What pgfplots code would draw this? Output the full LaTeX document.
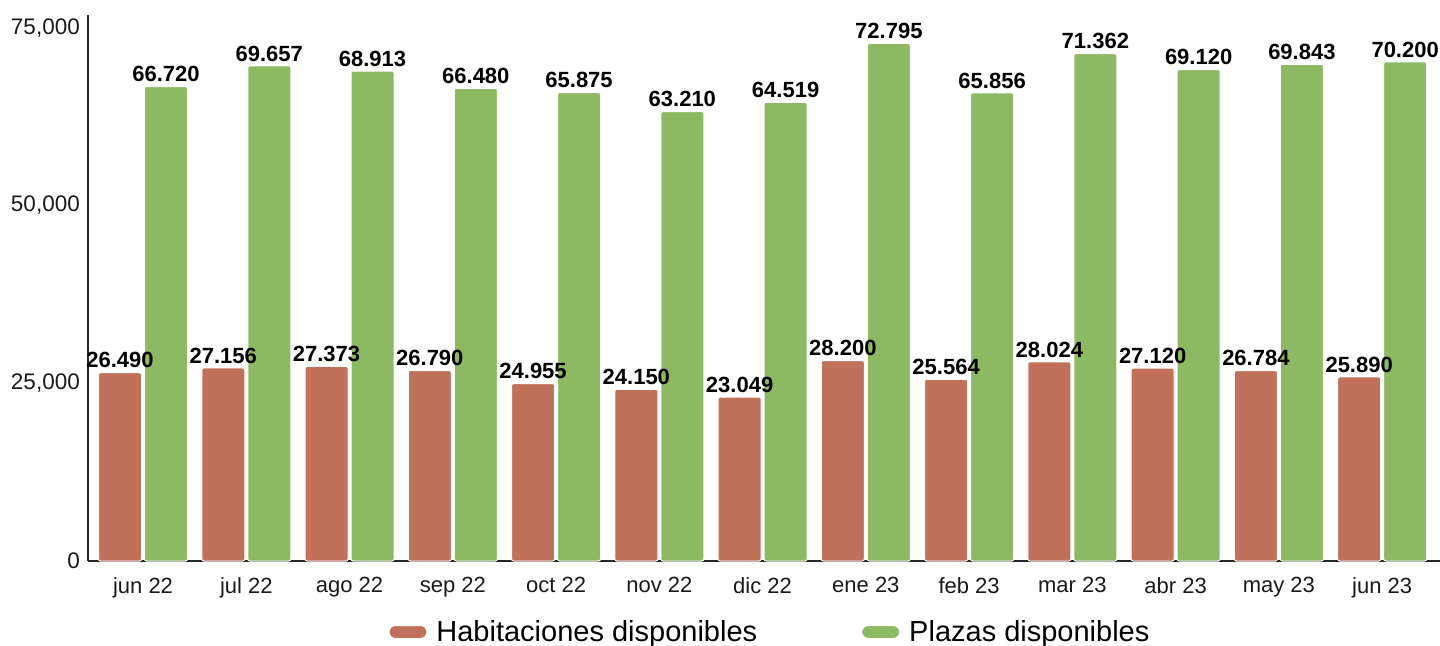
\documentclass[border=0pt]{standalone}
\usepackage{fontspec}
\setmainfont{Liberation Sans}
\usepackage{pgfplots}
\pgfplotsset{compat=1.18}
\definecolor{habc}{HTML}{C1705A}
\definecolor{plac}{HTML}{8DB963}
\begin{document}
\begin{tikzpicture}
\useasboundingbox (-88bp,-85bp) rectangle (1352bp,561bp);
\begin{axis}[
  at={(0,0)}, anchor=south west,
  scale only axis, width=1352bp, height=546bp,
  xmin=-0.533, xmax=12.56, ymin=0, ymax=76800,
  ybar, bar width=43bp,
  axis x line=bottom, axis y line=left,
  axis line style={-, line width=1.5bp, black!85},
  major tick length=0pt,
  xtick={0,...,12},
  xticklabels={jun 22,jul 22,ago 22,sep 22,oct 22,nov 22,dic 22,ene 23,feb 23,mar 23,abr 23,may 23,jun 23},
  ytick={0,25000,50000,75000},
  scaled y ticks=false,
  /pgf/number format/assume math mode=true,
  yticklabel style={/pgf/number format/1000 sep={,}, inner sep=0pt, xshift=-8bp, font=\fontsize{22.5bp}{26bp}\selectfont, text=black!90},
  xticklabel style={inner sep=0pt, yshift=-16bp, font=\fontsize{22bp}{26bp}\selectfont, text=black!90},
  nodes near coords,
  every node near coord/.append style={/pgf/number format/1000 sep={.}, inner sep=0pt, yshift=4bp, anchor=south, font=\fontsize{22bp}{24bp}\selectfont\bfseries, text=black},
  legend columns=2,
  reverse legend,
  legend style={at={(0.5044,0)}, anchor=center, yshift=-71bp, draw=none, fill=none, font=\fontsize{29bp}{32bp}\selectfont, inner sep=0pt,
    /tikz/every odd column/.append style={column sep=7bp},
    /tikz/every even column/.append style={column sep=102bp}},
  legend image code/.code={\fill[#1, rounded corners=6.5bp] (0bp,-6.5bp) rectangle (38bp,6.5bp);},
]
\addplot[fill=plac, draw=white, line width=1bp, bar shift=23bp, rounded corners=2bp] coordinates {
(0,66720) (1,69657) (2,68913) (3,66480) (4,65875) (5,63210) (6,64519) (7,72795) (8,65856) (9,71362) (10,69120) (11,69843) (12,70200)};
\addlegendentry{Plazas disponibles}
\addplot[fill=habc, draw=white, line width=1bp, bar shift=-23bp, rounded corners=2bp] coordinates {
(0,26490) (1,27156) (2,27373) (3,26790) (4,24955) (5,24150) (6,23049) (7,28200) (8,25564) (9,28024) (10,27120) (11,26784) (12,25890)};
\addlegendentry{Habitaciones disponibles}
\end{axis}
\end{tikzpicture}
\end{document}
